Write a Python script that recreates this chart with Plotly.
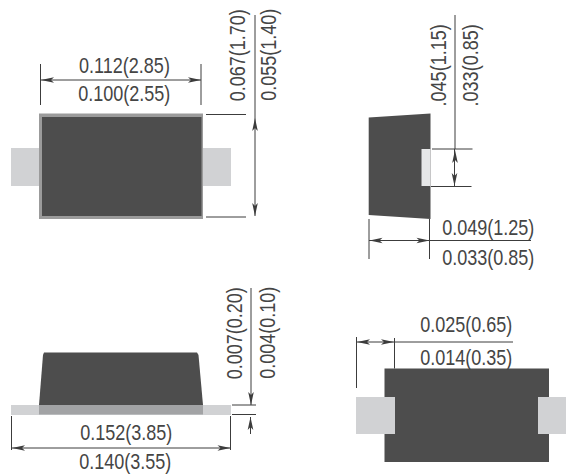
import plotly.graph_objects as go

# Diagram geometry (pixel-style drawing units)
DARK = "#4d4d4d"
EDGE = "#9b9b9b"
LEAD = "#d1d2d4"
LEAD_LIGHT = "#e6e7e8"
OVERLAP = "#a2a3a5"
INK = "#454545"
LINE = "#3c3c3c"

# filled polygons: (x list, y list, colour)
top_leads = [([11, 39, 39, 11], [148, 148, 186, 186]), ([203, 231, 231, 203], [148, 148, 186, 186])]
top_edge = ([39, 203, 203, 39], [113.5, 113.5, 219, 219])
top_body = ([42, 201.5, 201.5, 42], [117, 117, 216, 216])
side_body = ([368.7, 430.5, 430.5, 368.7], [117.5, 113.5, 219, 215])
side_lead = ([421.5, 430.5, 430.5, 421.5], [149, 149, 186, 186])
front_lead = ([11, 231, 231, 11], [405, 405, 415, 415])
front_overlap = ([39, 203, 203, 39], [405, 405, 414.5, 414.5])
front_body = ([39, 43, 44, 197, 198.5, 203, 39], [405, 355, 352.5, 352.5, 355, 405, 405])
bottom_body = ([384.5, 549, 549, 384.5], [368.5, 368.5, 462, 462])
bottom_leads = [([356, 395, 395, 356], [397, 397, 434, 434]), ([538, 566, 566, 538], [397, 397, 434, 434])]

# dimension lines: (x0, y0, x1, y1)
dim_lines = [
    (40.5, 64, 40.5, 105), (201, 64, 201, 105), (40.5, 80, 201, 80),
    (206, 114.5, 246, 114.5), (206, 217, 246, 217), (255, 15, 255, 216),
    (455, 15, 455, 149), (432, 149, 472.5, 149), (431, 186.5, 471.5, 186.5), (454.5, 149, 454.5, 186),
    (369, 219, 369, 259), (429.5, 219, 429.5, 259), (369, 240.5, 531, 240.5),
    (251, 288, 251, 405), (232, 405, 256, 405), (232, 414.5, 256, 414.5), (250.5, 417, 250.5, 434),
    (11.5, 416, 11.5, 450), (230.5, 416, 230.5, 450), (11.5, 448, 230.5, 448),
    (356.5, 337, 356.5, 388), (394.5, 338, 394.5, 368.5), (356.5, 342, 513, 342),
]

# arrows: (tip x, tip y, direction x, direction y) direction runs from tip to tail
arrows = [
    (41, 80, 1, 0), (201, 80, -1, 0),
    (255, 118, 0, 1), (255, 216, 0, -1),
    (455, 150, 0, 1), (454.5, 186, 0, -1),
    (369.5, 240.5, 1, 0), (429.5, 240.5, -1, 0),
    (251, 405, 0, -1), (250.5, 417, 0, 1),
    (12, 448, 1, 0), (230.5, 448, -1, 0),
    (357, 342, 1, 0), (394, 342, -1, 0),
]

# labels: (text, x centre, y centre, angle)
labels = [
    ("0.112(2.85)", 124, 65, 0), ("0.100(2.55)", 124, 93, 0),
    ("0.067(1.70)", 237.5, 55, -90), ("0.055(1.40)", 268, 55, -90),
    (".045(1.15)", 439, 65.5, -90), (".033(0.85)", 471, 65.5, -90),
    ("0.049(1.25)", 488, 227, 0), ("0.033(0.85)", 488, 257, 0),
    ("0.152(3.85)", 126, 432, 0), ("0.140(3.55)", 125, 461, 0),
    ("0.007(0.20)", 234.5, 333, -90), ("0.004(0.10)", 267, 333, -90),
    ("0.025(0.65)", 466.5, 324, 0), ("0.014(0.35)", 466.5, 357, 0),
]

ARROW_LEN = 13
ARROW_HALF = 2.8
ARROW_NOTCH = 10
NARROW = 0.82

fig = go.Figure()


def poly(shape, colour):
    xs, ys = shape
    fig.add_trace(go.Scatter(x=list(xs) + [xs[0]], y=list(ys) + [ys[0]], mode="lines", fill="toself",
                             fillcolor=colour, line=dict(width=0), hoverinfo="skip", showlegend=False))


for s in top_leads:
    poly(s, LEAD)
poly(top_edge, EDGE)
poly(top_body, DARK)
poly(side_body, DARK)
poly(side_lead, LEAD_LIGHT)
poly(front_lead, LEAD)
poly(front_body, DARK)
poly(front_overlap, OVERLAP)
poly(bottom_body, DARK)
for s in bottom_leads:
    poly(s, LEAD)

line_x, line_y = [], []
for x0, y0, x1, y1 in dim_lines:
    line_x += [x0, x1, None]
    line_y += [y0, y1, None]
fig.add_trace(go.Scatter(x=line_x, y=line_y, mode="lines", line=dict(color=LINE, width=1),
                         hoverinfo="skip", showlegend=False))

for tx, ty, dx, dy in arrows:
    px, py = -dy, dx
    xs = [tx, tx + dx * ARROW_LEN + px * ARROW_HALF, tx + dx * ARROW_NOTCH, tx + dx * ARROW_LEN - px * ARROW_HALF, tx]
    ys = [ty, ty + dy * ARROW_LEN + py * ARROW_HALF, ty + dy * ARROW_NOTCH, ty + dy * ARROW_LEN - py * ARROW_HALF, ty]
    fig.add_trace(go.Scatter(x=xs, y=ys, mode="lines", fill="toself", fillcolor=LINE, line=dict(width=0),
                             hoverinfo="skip", showlegend=False))

for text, x, y, angle in labels:
    fig.add_annotation(x=x, y=y, text=text, textangle=angle, showarrow=False, xanchor="center", yanchor="middle",
                       font=dict(family="Liberation Sans", size=22, color=INK))

fig.update_layout(width=566, height=476, margin=dict(l=0, r=0, t=0, b=0), paper_bgcolor="white",
                  plot_bgcolor="white", showlegend=False,
                  xaxis=dict(range=[0, 566], visible=False, fixedrange=True),
                  yaxis=dict(range=[476, 0], visible=False, fixedrange=True))

# Liberation Sans Narrow is not installed: condense the real text elements to the reference's width
post = """
document.body.style.margin='0';document.documentElement.style.overflow='hidden';
document.querySelectorAll('.annotation-text').forEach(function(t){
  var b=t.getBBox(), c=b.x+b.width/2;
  t.setAttribute('transform','translate('+c+',0) scale(%s,1) translate('+(-c)+',0)');
});
""" % NARROW
fig.write_html("out.html", config={"displayModeBar": False}, post_script=post)
